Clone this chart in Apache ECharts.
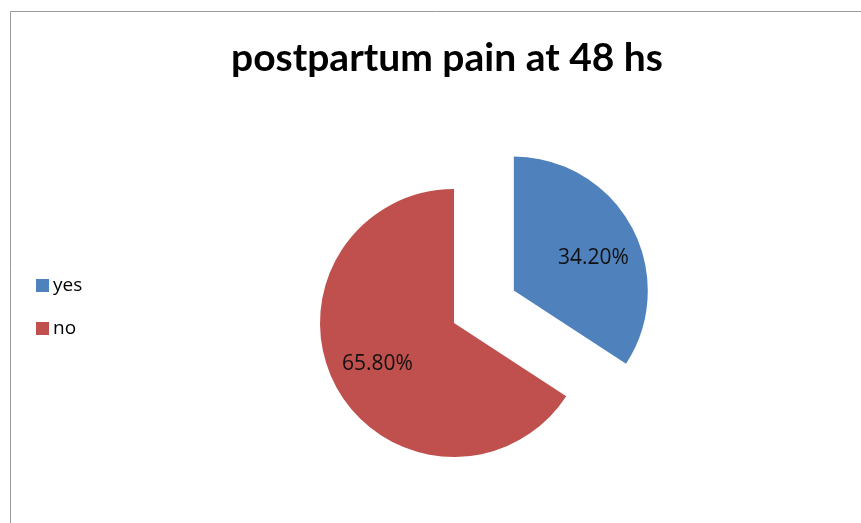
<!DOCTYPE html>
<html>
<head>
<meta charset="utf-8">
<script src="https://cdn.jsdelivr.net/npm/echarts@6/dist/echarts.min.js"></script>
<style>
  html, body { margin: 0; padding: 0; background: #fff; }
  #chart { width: 861px; height: 523px; }
</style>
</head>
<body>
<div id="chart"></div>
<script>
const categories = ["yes", "no"];
const shares = [34.2, 65.8];
const colors = ["#4F81BD", "#C0504D"];
// label nudges so text sits where Excel put it
const labelOffsets = [[18, 1], [-15, 8]];

const chart = echarts.init(document.getElementById("chart"));

const option = {
  backgroundColor: "#ffffff",
  animation: false,
  title: {
    text: "postpartum pain at 48 hs",
    left: 442,
    top: 34,
    textAlign: "center",
    textStyle: {
      fontFamily: "Lato",
      fontWeight: "bold",
      fontSize: 39,
      color: "#000"
    }
  },
  legend: {
    orient: "vertical",
    left: 31,
    top: 271,
    itemWidth: 13,
    itemHeight: 13,
    itemGap: 24,
    icon: "rect",
    selectedMode: false,
    data: categories,
    textStyle: {
      fontFamily: "Open Sans",
      fontSize: 19,
      color: "#000",
      padding: [0, 0, 0, -1]
    }
  },
  graphic: [
    {
      type: "rect",
      silent: true,
      shape: { x: 10.5, y: 11.5, width: 900, height: 600 },
      style: { fill: "none", stroke: "#9a9a9a", lineWidth: 1 }
    }
  ],
  series: [
    {
      type: "pie",
      center: [454, 323],
      radius: 134,
      startAngle: 90,
      clockwise: true,
      selectedMode: "single",
      selectedOffset: 68,
      labelLine: { show: false },
      emphasis: { disabled: true },
      label: {
        show: true,
        position: "inside",
        fontFamily: "Open Sans",
        fontSize: 21,
        color: "#111",
        formatter: p => p.value.toFixed(2) + "%"
      },
      data: categories.map((name, i) => ({
        name: name,
        value: shares[i],
        selected: i === 0,
        itemStyle: { color: colors[i] },
        label: { offset: labelOffsets[i] },
        select: { label: { offset: labelOffsets[i] } }
      }))
    }
  ]
};

chart.setOption(option);
</script>
</body>
</html>
